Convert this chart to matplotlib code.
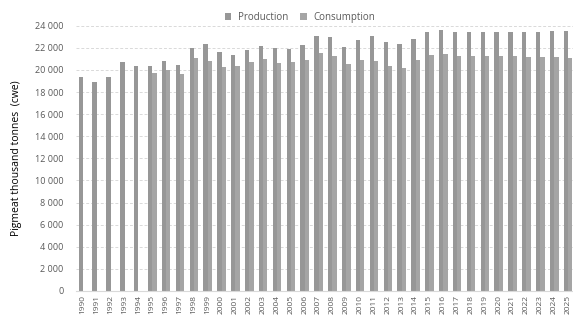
import matplotlib
matplotlib.use("Agg")
import matplotlib.pyplot as plt
import numpy as np
from matplotlib.ticker import FuncFormatter

years = [str(y) for y in range(1990, 2026)]
production = [19340, 18940, 19340, 20750, 20330, 20330, 20810, 20450, 21960, 22350,
              21600, 21360, 21810, 22170, 21960, 21900, 22230, 23100, 22950, 22110,
              22740, 23070, 22560, 22380, 22830, 23440, 23590, 23470, 23440, 23440,
              23410, 23410, 23410, 23440, 23500, 23530]
consumption = [np.nan, np.nan, np.nan, np.nan, np.nan, 19700, 20030, 19670, 21110, 20810,
               20240, 20360, 20720, 20990, 20660, 20720, 20900, 21540, 21270, 20540,
               20870, 20840, 20360, 20150, 20870, 21390, 21450, 21300, 21270, 21270,
               21240, 21240, 21180, 21150, 21150, 21110]
y_ticks = list(range(0, 24001, 2000))

plt.rcParams['font.family'] = ['Open Sans', 'DejaVu Sans']
fig = plt.figure(figsize=(5.73, 3.17), dpi=100)
ax = fig.add_axes([76/573, 26/317, 499/573, (291-25.7)/317])

x = np.arange(len(years))
w = 0.31
ax.bar(x - w/2, production, width=w, color='#979797', label='Production', zorder=2)
ax.bar(x + w/2, consumption, width=w, color='#a5a5a5', label='Consumption', zorder=2)

ax.set_xlim(-0.5, len(years) - 0.5)
ax.set_ylim(0, 24000)
ax.set_yticks(y_ticks)
ax.yaxis.set_major_formatter(FuncFormatter(lambda v, p: f"{int(v):,}".replace(",", " ")))
ax.set_xticks(x)
ax.set_xticklabels(years, rotation=90)
ax.tick_params(axis='y', length=0, labelsize=6.5, labelcolor='#595959', pad=9)
ax.tick_params(axis='x', length=0, labelsize=6, labelcolor='#595959', pad=3)
ax.grid(axis='y', color='#d9d9d9', linestyle=(0, (3, 2)), linewidth=0.7, zorder=0)
for s in ['top', 'right', 'left']:
    ax.spines[s].set_visible(False)
ax.spines['bottom'].set_color('#d9d9d9')
ax.spines['bottom'].set_linewidth(0.8)
ax.set_ylabel('Pigmeat thousand tonnes  (cwe)', fontsize=7.5, color='#000000', labelpad=9)

leg = ax.legend(loc='lower center', bbox_to_anchor=((300 - 76) / 499, 0.995), ncol=2,
                frameon=False, fontsize=7, handlelength=0.7, handleheight=0.7,
                columnspacing=1.2, handletextpad=0.7, borderaxespad=0.0)
for t in leg.get_texts():
    t.set_color('#595959')

fig.savefig('out.png', dpi=100)
